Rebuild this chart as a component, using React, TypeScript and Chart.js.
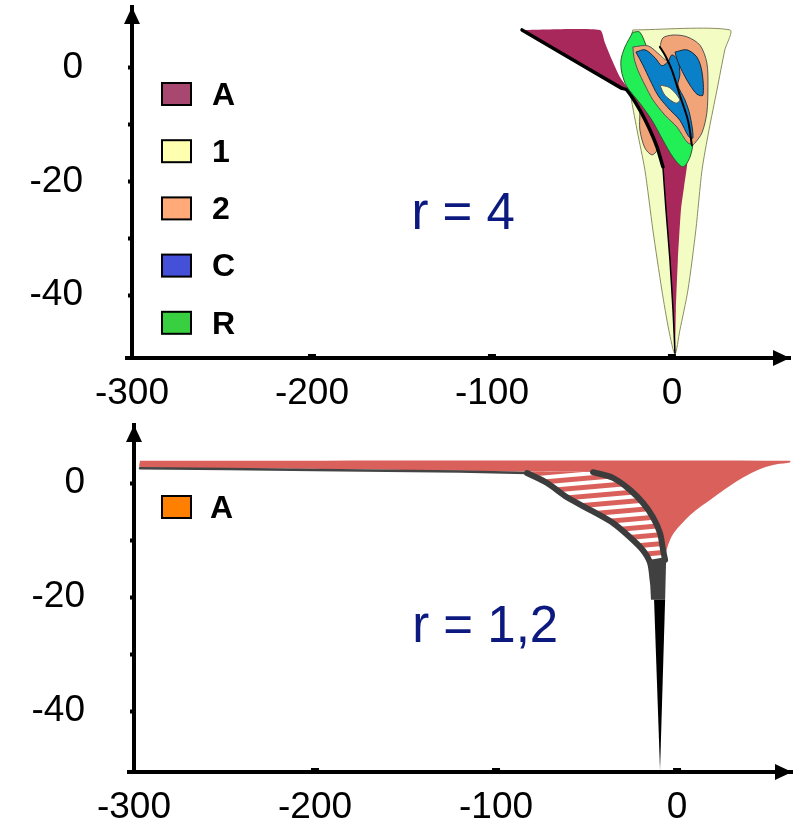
import React, { useEffect, useRef } from 'react';
import { Chart, registerables } from 'chart.js';

Chart.register(...registerables);
Chart.defaults.font.family = "'Liberation Sans', Arial, sans-serif";

type Pt = [number, number];

// ---------- shared axis data ----------
const xTickValues = [-300, -200, -100, 0];
const yTickValues = [-40, -30, -20, -10, 0];
const yLabelValues = [-40, -20, 0];

// ---------- top panel (r = 4) ----------
const topTitle = 'r = 4';
const topTitleAt: Pt = [-116, -25.9];
const topLegendLabels = ['A', '1', '2', 'C', 'R'];
const topLegendColors = ['#a84870', '#ffffb0', '#ffaa78', '#4450d8', '#38d040'];

const zone1Outline: Pt[] = [
  [-21.7, 6.7], [-24.4, 3.2], [-23.3, -3.9], [-19.4, -10.9], [-15, -18], [-10.6, -28.5],
  [-5.6, -39.1], [-1.7, -46.2], [1.7, -50.4], [4.4, -46.2], [8.9, -39.1], [13.3, -28.5],
  [16.7, -18], [20.6, -10.9], [25, -3.9], [29.4, 3.2], [32.2, 6.7],
];
const zone2LeftLobe: Pt[] = [
  [-17.8, -7.9], [-13.3, -8.8], [-10.6, -11.4], [-8.3, -14.4], [-11.1, -15.3], [-15, -14.1], [-17.8, -10.9],
];
const zoneAOutline: Pt[] = [
  [-83.3, 6.7], [-40, 6.7], [-37.2, 4.4], [-33.3, 1.4], [-28.9, -1.6], [-24.4, -3.5], [-15, -6],
  [0, -9.5], [8.9, -14.4], [8.3, -17.4], [6.7, -21], [5, -25], [3.3, -33.8], [2.2, -42.6],
  [1.7, -50.2], [0.6, -42.6], [-1.1, -33.8], [-3.3, -25], [-5, -17.4], [-8.3, -13.9],
  [-12.2, -10.9], [-17.8, -7.4], [-25, -3.9], [-28.3, -3.5],
];
const zoneAEdgeUpper: Pt[] = [
  [-83.3, 6.7], [-28.3, -3.5], [-25, -3.9], [-17.8, -7.4], [-12.2, -10.9], [-8.3, -13.9], [-5, -17.4],
];
const zoneAEdgeLower: Pt[] = [
  [-5, -17.4], [-3.3, -25], [-1.1, -33.8], [0.6, -42.6], [1.7, -50.2],
];
const zoneROutline: Pt[] = [
  [-21.7, 6.3], [-26.1, 3.7], [-28.3, 1.4], [-27.8, -0.9], [-25, -3.3], [-17.8, -6.2], [-11.1, -9.2],
  [-5, -12.7], [0.6, -15.7], [6.1, -17.4], [10, -15.7], [11.7, -12.7], [8.9, -7.4], [1.7, -3.9],
  [-6.7, -0.4], [-13.3, 3.2], [-17.8, 6.3],
];
const zone2Strip: Pt[] = [
  [-21.7, 3.7], [-13.3, 3.9], [-6.7, 2.3], [-2.8, 1.4], [1.7, 3.2], [6.1, 1.8], [7.2, -1.8],
  [11.1, -5.6], [13.3, -10], [12.2, -13.2], [8.9, -13.2], [2.8, -10.4], [-3.9, -8.3],
  [-10.6, -5.6], [-15, -3], [-18.9, -0.4], [-21.1, 1.8],
];
const zone2Right: Pt[] = [
  [-6.7, 3.7], [-5, 5.3], [0.6, 5.8], [8.3, 5.5], [15.6, 4], [19.4, 0.9], [20, -3.3], [19.4, -7.9],
  [16.7, -11.4], [12.8, -13.2], [11.1, -13.6], [8.9, -9.2], [4.4, -4.8], [0, -0.4], [-3.9, 2.3],
];
const zoneCLeft: Pt[] = [
  [-20, 2.8], [-15, 3.2], [-9.4, 1.8], [-5.6, 0.4], [-2.2, 1.1], [0, 2.3], [3.3, 1.4], [4.4, -1.2],
  [3.3, -3], [7.2, -5.6], [10, -8.3], [11.7, -12.3], [9.4, -12.1], [4.4, -9.2], [-2.2, -7.0],
  [-7.8, -4.8], [-12.2, -2.1], [-16.1, 0.5],
];
const zoneCRight: Pt[] = [
  [1.7, 2.8], [8.3, 3.2], [13.9, 1.9], [16.7, -0.7], [17.2, -4.8], [13.9, -4.6], [10, -3.0],
  [6.7, -1.2], [3.3, 1.1],
];
const zone1Inner: Pt[] = [
  [-6.7, -3], [-1.1, -3.5], [4.4, -5.6], [2.2, -6.2], [-3.9, -4.8],
];
const innerDivide: Pt[] = [
  [-6.7, 3.7], [-3.9, 2.3], [0, -0.4], [4.4, -4.8], [8.9, -9.2], [11.1, -13.6],
];

// ---------- bottom panel (r = 1,2) ----------
const bottomTitle = 'r = 1,2';
const bottomTitleAt: Pt = [-106, -25.4];
const bottomLegendLabels = ['A'];
const bottomLegendColors = ['#ff7f00'];

const redZone: Pt[] = [
  [-296.7, 3.9], [62.4, 3.9], [62.4, 3.6], [55, 3.3], [47, 2.6], [40, 1.6], [33, 0.3],
  [26, -1.2], [19, -2.8], [12, -4.4], [6, -6.0], [1.5, -7.5], [-2.5, -9.1], [-5, -10.9],
  [-6.3, -12.5], [-6.6, -13.0],
  [-7.7, -11.8], [-9.4, -8.8], [-13.3, -6.0], [-18.8, -3.5], [-26, -1.2], [-35.4, 0.9],
  [-46.4, 1.9], [-82.9, 2.0], [-150, 2.3], [-210, 2.5], [-296.7, 2.8],
];
const hatchZone: Pt[] = [
  [-82.9, 1.9], [-46.4, 1.9], [-35.4, 0.9], [-26, -1.2], [-18.8, -3.5], [-13.3, -6.0],
  [-9.4, -8.8], [-7.7, -11.8], [-6.6, -13.5], [-12, -14.5], [-14.9, -14.0], [-18.8, -11.8],
  [-26, -9.5], [-35.4, -7.0], [-48.1, -4.7], [-60.8, -2.5], [-71.8, 0], [-82.9, 1.75],
];
const bandUnderline: Pt[] = [[-296.7, 2.6], [-200, 2.3], [-120, 2.0], [-82.9, 1.75]];
const hatchLeftEdge: Pt[] = [
  [-82.9, 1.75], [-71.8, 0], [-60.8, -2.5], [-48.1, -4.7], [-35.4, -7.0], [-26, -9.5],
  [-18.8, -11.8], [-14.9, -14.0], [-13.3, -17.5],
];
const hatchRightEdge: Pt[] = [
  [-46.4, 1.9], [-35.4, 0.9], [-26, -1.2], [-18.8, -3.5], [-13.3, -6.0], [-9.4, -8.8],
  [-7.7, -11.8], [-6.6, -13.5],
];
const stemGrey: Pt[] = [[-15.5, -13.5], [-6.0, -13.0], [-6.6, -20.5], [-14.4, -20.5]];
const stemBlack: Pt[] = [[-12.7, -20.5], [-6.6, -20.5], [-9.4, -50.4]];

// ---------- helpers ----------
const toXY = (pts: Pt[]) => pts.map(([x, y]) => ({ x, y }));

function area(label: string, pts: Pt[], bg: any, border = 'rgba(0,0,0,0)', bw = 0, tension = 0.3) {
  return {
    label,
    data: toXY([...pts, pts[0]]),
    fill: 'shape',
    backgroundColor: bg,
    borderColor: border,
    borderWidth: bw,
    pointRadius: 0,
    tension,
  };
}
function stroke(label: string, pts: Pt[], color: string, width: number, tension = 0.3) {
  return {
    label,
    data: toXY(pts),
    fill: false,
    backgroundColor: 'rgba(0,0,0,0)',
    borderColor: color,
    borderWidth: width,
    pointRadius: 0,
    tension,
    borderCapStyle: 'round',
  };
}

const decorPlugin = {
  id: 'decor',
  afterDraw(chart: any, _args: any, o: any) {
    const { ctx, chartArea: a, scales } = chart;
    ctx.save();
    ctx.fillStyle = '#000';
    // arrow heads
    ctx.beginPath();
    ctx.moveTo(a.left, a.top);
    ctx.lineTo(a.left - 8, a.top + 17);
    ctx.lineTo(a.left + 8, a.top + 17);
    ctx.closePath();
    ctx.fill();
    ctx.beginPath();
    ctx.moveTo(a.right, a.bottom);
    ctx.lineTo(a.right - 17, a.bottom - 8);
    ctx.lineTo(a.right - 17, a.bottom + 8);
    ctx.closePath();
    ctx.fill();
    ctx.fillRect(a.left - 7, a.bottom - 2, 7, 4);
    // small tick bumps above the x axis
    scales.x.ticks.forEach((t: any) => {
      if (t.value === xTickValues[0]) return;
      const px = scales.x.getPixelForValue(t.value);
      ctx.fillRect(px - 4, a.bottom - 4, 8, 3);
    });
    // legend
    ctx.textBaseline = 'middle';
    ctx.textAlign = 'left';
    ctx.font = "bold 32px 'Liberation Sans', Arial, sans-serif";
    o.labels.forEach((lab: string, i: number) => {
      const y = o.y + i * o.gap;
      ctx.fillStyle = o.colors[i];
      ctx.fillRect(o.x, y, 29, 22);
      ctx.lineWidth = 2;
      ctx.strokeStyle = '#000';
      ctx.strokeRect(o.x, y, 29, 22);
      ctx.fillStyle = '#000';
      ctx.fillText(lab, o.textX, y + 13);
    });
    // title
    ctx.font = "51px 'Liberation Sans', Arial, sans-serif";
    ctx.fillStyle = '#0c1a80';
    ctx.textAlign = 'center';
    ctx.fillText(o.title, scales.x.getPixelForValue(o.titleAt[0]), scales.y.getPixelForValue(o.titleAt[1]));
    ctx.restore();
  },
};

function makeScales(xMax: number, yMin: number, yMax: number, yWidth: number, xHeight: number, xPad: number) {
  return {
    x: {
      type: 'linear',
      min: -300,
      max: xMax,
      afterBuildTicks: (s: any) => { s.ticks = xTickValues.map((v) => ({ value: v })); },
      afterFit: (s: any) => {
        s.height = xHeight;
        s.paddingLeft = 0;
        s.paddingRight = 0;
        s.paddingTop = 0;
        s.paddingBottom = 0;
      },
      grid: { display: false, drawTicks: false },
      border: { display: true, color: '#000', width: 4 },
      ticks: { color: '#000', font: { size: 37 }, padding: xPad, maxRotation: 0, autoSkip: false, callback: (v: any) => String(v) },
    },
    y: {
      type: 'linear',
      min: yMin,
      max: yMax,
      afterBuildTicks: (s: any) => { s.ticks = yTickValues.map((v) => ({ value: v })); },
      afterFit: (s: any) => {
        s.width = yWidth;
        s.paddingLeft = 0;
        s.paddingRight = 0;
        s.paddingTop = 0;
        s.paddingBottom = 0;
      },
      grid: { display: true, drawOnChartArea: false, drawTicks: true, tickLength: 4, tickWidth: 4, tickColor: '#000', color: '#000' },
      border: { display: true, color: '#000', width: 4 },
      ticks: { color: '#000', font: { size: 37 }, padding: 45, autoSkip: false, callback: (v: any) => (yLabelValues.includes(v) ? String(v) : '') },
    },
  };
}

function topConfig(): any {
  const layers = [
    area('1', zone1Outline, '#f3fcc2', '#8c8c64', 1, 0.25),
    area('2', zone2LeftLobe, '#f0a478', '#555', 1),
    area('A', zoneAOutline, '#a8285c', 'rgba(0,0,0,0)', 0, 0.2),
    stroke('A edge', zoneAEdgeUpper, '#000', 3.5, 0.2),
    stroke('A edge lower', zoneAEdgeLower, '#000', 1.5, 0.2),
    area('R', zoneROutline, '#22ee55', '#2a5a2a', 1),
    area('2', zone2Strip, '#f0a478', '#555', 1),
    area('2', zone2Right, '#f0a478', '#555', 1),
    area('C', zoneCLeft, '#0a80c8', '#1a2a3a', 1),
    area('C', zoneCRight, '#0a80c8', '#1a2a3a', 1),
    area('1', zone1Inner, '#f3fcc2', '#555', 1),
    stroke('divide', innerDivide, '#000', 2),
  ];
  return {
    type: 'line',
    data: { datasets: layers.reverse() },
    options: {
      responsive: false,
      animation: false,
      layout: { padding: { top: 7, right: 6, left: 0, bottom: 0 } },
      plugins: {
        legend: { display: false },
        tooltip: { enabled: false },
        decor: { labels: topLegendLabels, colors: topLegendColors, x: 162, y: 83, gap: 57.2, textX: 212, title: topTitle, titleAt: topTitleAt },
      },
      scales: makeScales(65.6, -51.06, 10.74, 132, 52, 14),
    },
    plugins: [decorPlugin],
  };
}

function bottomConfig(hatch: any): any {
  const layers = [
    area('A', redZone, '#d9605b', 'rgba(0,0,0,0)', 0, 0.3),
    area('A hatch', hatchZone, hatch, 'rgba(0,0,0,0)', 0, 0.3),
    stroke('band', bandUnderline, '#444', 2.5, 0.3),
    stroke('left edge', hatchLeftEdge, '#3c3c3c', 6, 0.3),
    stroke('right edge', hatchRightEdge, '#3c3c3c', 6, 0.3),
    area('stem', stemGrey, '#404040', 'rgba(0,0,0,0)', 0, 0),
    area('spike', stemBlack, '#000', 'rgba(0,0,0,0)', 0, 0),
  ];
  return {
    type: 'line',
    data: { datasets: layers.reverse() },
    options: {
      responsive: false,
      animation: false,
      layout: { padding: { top: 15, right: 4, left: 0, bottom: 0 } },
      plugins: {
        legend: { display: false },
        tooltip: { enabled: false },
        decor: { labels: bottomLegendLabels, colors: bottomLegendColors, x: 162, y: 86, gap: 57, textX: 210, title: bottomTitle, titleAt: bottomTitleAt },
      },
      scales: makeScales(63.5, -50.7, 10.18, 134, 51, 14),
    },
    plugins: [decorPlugin],
  };
}

function makeHatch(): any {
  const c = document.createElement('canvas');
  c.width = 12;
  c.height = 9;
  const g = c.getContext('2d')!;
  g.fillStyle = '#ffffff';
  g.fillRect(0, 0, 12, 9);
  g.fillStyle = '#d9605b';
  g.fillRect(0, 0, 12, 5);
  const ctx = document.createElement('canvas').getContext('2d')!;
  const p = ctx.createPattern(c, 'repeat')!;
  try {
    p.setTransform(new DOMMatrix().skewY(-5));
  } catch (e) {
    /* ignore */
  }
  return p;
}

function Panel({ build, width, height }: { build: () => any; width: number; height: number }) {
  const ref = useRef<HTMLCanvasElement>(null);
  useEffect(() => {
    const chart = new Chart(ref.current!, build());
    return () => chart.destroy();
  }, []);
  return (
    <div style={{ width, height }}>
      <canvas ref={ref} width={width} height={height} style={{ display: 'block', width, height }} />
    </div>
  );
}

export default function App() {
  useEffect(() => {
    document.body.style.margin = '0';
  }, []);
  return (
    <div style={{ width: 796, background: '#fff' }}>
      <Panel build={topConfig} width={796} height={410} />
      <Panel build={() => bottomConfig(makeHatch())} width={796} height={413} />
    </div>
  );
}
